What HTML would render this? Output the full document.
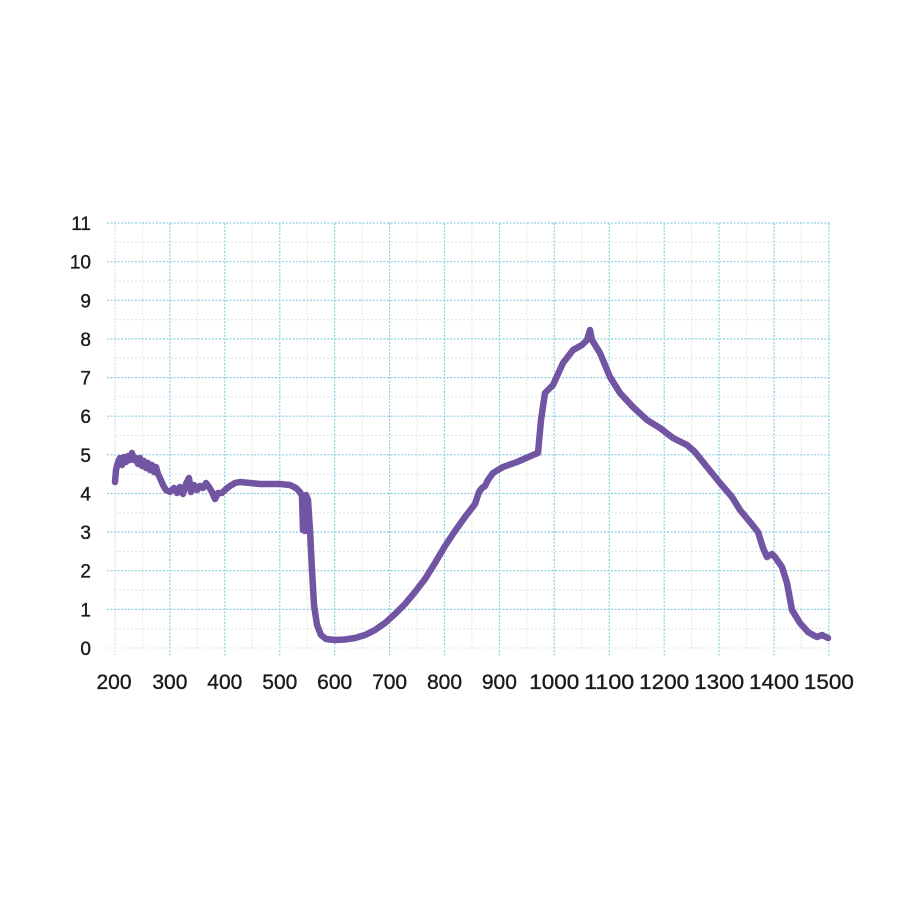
<!DOCTYPE html>
<html>
<head>
<meta charset="utf-8">
<style>
html,body{margin:0;padding:0;background:#fff;}
svg{display:block;}
text{font-family:"Liberation Sans",Arial,sans-serif;fill:#1a1a1a;stroke:#1a1a1a;stroke-width:0.35;}
</style>
</head>
<body>
<svg width="900" height="900" viewBox="0 0 900 900" xmlns="http://www.w3.org/2000/svg">
<rect width="900" height="900" fill="#fff"/>
<!-- minor grid -->
<g stroke="#efe9d6" stroke-width="1" stroke-dasharray="2,1">
<line x1="142.5" y1="223" x2="142.5" y2="648"/>
<line x1="197.4" y1="223" x2="197.4" y2="648"/>
<line x1="252.3" y1="223" x2="252.3" y2="648"/>
<line x1="307.2" y1="223" x2="307.2" y2="648"/>
<line x1="362.1" y1="223" x2="362.1" y2="648"/>
<line x1="417.0" y1="223" x2="417.0" y2="648"/>
<line x1="471.9" y1="223" x2="471.9" y2="648"/>
<line x1="526.8" y1="223" x2="526.8" y2="648"/>
<line x1="581.7" y1="223" x2="581.7" y2="648"/>
<line x1="636.6" y1="223" x2="636.6" y2="648"/>
<line x1="691.5" y1="223" x2="691.5" y2="648"/>
<line x1="746.4" y1="223" x2="746.4" y2="648"/>
<line x1="801.3" y1="223" x2="801.3" y2="648"/>
</g>
<g stroke="#d6e6ea" stroke-width="1" stroke-dasharray="2,2">
<line x1="115" y1="628.7" x2="830" y2="628.7"/>
<line x1="115" y1="590.0" x2="830" y2="590.0"/>
<line x1="115" y1="551.4" x2="830" y2="551.4"/>
<line x1="115" y1="512.8" x2="830" y2="512.8"/>
<line x1="115" y1="474.1" x2="830" y2="474.1"/>
<line x1="115" y1="435.5" x2="830" y2="435.5"/>
<line x1="115" y1="396.9" x2="830" y2="396.9"/>
<line x1="115" y1="358.2" x2="830" y2="358.2"/>
<line x1="115" y1="319.6" x2="830" y2="319.6"/>
<line x1="115" y1="281.0" x2="830" y2="281.0"/>
<line x1="115" y1="242.3" x2="830" y2="242.3"/>
</g>
<!-- major grid -->
<g stroke="#8ecfe0" stroke-width="1.2" stroke-dasharray="2,1.5">
<line x1="115" y1="223" x2="115" y2="656" stroke="#cfe6ee"/>
<line x1="169.9" y1="223" x2="169.9" y2="656"/>
<line x1="224.8" y1="223" x2="224.8" y2="656"/>
<line x1="279.8" y1="223" x2="279.8" y2="656"/>
<line x1="334.7" y1="223" x2="334.7" y2="656"/>
<line x1="389.6" y1="223" x2="389.6" y2="656"/>
<line x1="444.5" y1="223" x2="444.5" y2="656"/>
<line x1="499.4" y1="223" x2="499.4" y2="656"/>
<line x1="554.3" y1="223" x2="554.3" y2="656"/>
<line x1="609.2" y1="223" x2="609.2" y2="656"/>
<line x1="664.2" y1="223" x2="664.2" y2="656"/>
<line x1="719.1" y1="223" x2="719.1" y2="656"/>
<line x1="774.0" y1="223" x2="774.0" y2="656"/>
<line x1="828.9" y1="223" x2="828.9" y2="656"/>
<line x1="107" y1="648" x2="830" y2="648" stroke="#e3eef0"/>
<line x1="107" y1="609.4" x2="830" y2="609.4"/>
<line x1="107" y1="570.7" x2="830" y2="570.7"/>
<line x1="107" y1="532.1" x2="830" y2="532.1"/>
<line x1="107" y1="493.5" x2="830" y2="493.5"/>
<line x1="107" y1="454.8" x2="830" y2="454.8"/>
<line x1="107" y1="416.2" x2="830" y2="416.2"/>
<line x1="107" y1="377.6" x2="830" y2="377.6"/>
<line x1="107" y1="338.9" x2="830" y2="338.9"/>
<line x1="107" y1="300.3" x2="830" y2="300.3"/>
<line x1="107" y1="261.7" x2="830" y2="261.7"/>
<line x1="107" y1="223" x2="830" y2="223"/>
</g>
<!-- y labels -->
<g font-size="19" text-anchor="end">
<text x="91" y="655">0</text>
<text x="91" y="616.4">1</text>
<text x="91" y="577.7">2</text>
<text x="91" y="539.1">3</text>
<text x="91" y="500.5">4</text>
<text x="91" y="461.8">5</text>
<text x="91" y="423.2">6</text>
<text x="91" y="384.6">7</text>
<text x="91" y="345.9">8</text>
<text x="91" y="307.3">9</text>
<text x="91" y="268.7">10</text>
<text x="91" y="230">11</text>
</g>
<!-- x labels -->
<g font-size="21" text-anchor="middle">
<text x="114" y="689">200</text>
<text x="169.9" y="689">300</text>
<text x="224.8" y="689">400</text>
<text x="279.8" y="689">500</text>
<text x="334.7" y="689">600</text>
<text x="389.6" y="689">700</text>
<text x="444.5" y="689">800</text>
<text x="499.4" y="689">900</text>
<text x="554.3" y="689" textLength="50" lengthAdjust="spacingAndGlyphs">1000</text>
<text x="609.2" y="689" textLength="50" lengthAdjust="spacingAndGlyphs">1100</text>
<text x="664.2" y="689" textLength="50" lengthAdjust="spacingAndGlyphs">1200</text>
<text x="719.1" y="689" textLength="50" lengthAdjust="spacingAndGlyphs">1300</text>
<text x="774.0" y="689" textLength="50" lengthAdjust="spacingAndGlyphs">1400</text>
<text x="828.9" y="689" textLength="50" lengthAdjust="spacingAndGlyphs">1500</text>
</g>
<!-- series -->
<polyline fill="none" stroke="#7155a3" stroke-width="6.5" stroke-linejoin="round" stroke-linecap="round"
points="115,482 116,470 118,462 120,458 122,465 124,457 126,462 128,456 130,460 132,453 134,460 136,458 138,464 140,458 142,466 144,461 146,468 148,463 150,470 152,465 154,472 156,467 158,474 160,478 163,485 166,490 170,492 174,488 177,493 180,487 183,494 186,484 189,478 191,492 194,485 197,490 200,486 203,488 206,483 209,487 212,492 215,499 218,493 222,493 226,489 230,486 235,483 240,482 250,483 260,484 270,484 280,484 290,485 296,488 300,492 302,496 303,530 305,531 306,495 308,500 310,530 312,570 314,605 317,625 321,635 326,639 335,640 345,639.5 355,638 365,635 375,630 385,623 395,614 405,604 415,592 425,579 435,563 445,546 455,531 465,517 475,504 479,492 482,488 485,486 488,480 493,473 503,467 517,462 533,455 538,453 541,420 545,393 553,385 563,363 573,350 582,345 587,340 590,330 592,340 600,353 610,377 620,393 633,407 647,420 660,428 673,438 687,445 695,452 707,467 720,483 732,497 740,510 750,522 758,532 763,548 767,557 772,554 775,557 782,567 787,583 792,610 800,623 808,632 813,635 817,637 822,635 828,638"/>
</svg>
</body>
</html>
